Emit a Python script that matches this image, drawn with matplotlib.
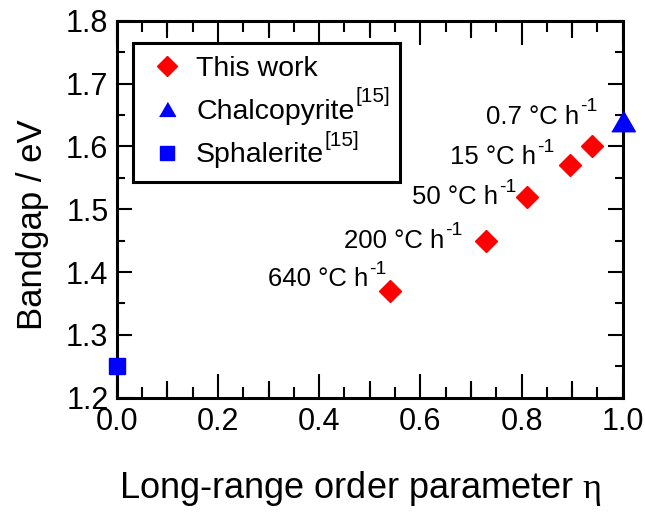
import matplotlib
matplotlib.use('Agg')
import matplotlib.pyplot as plt
from matplotlib.ticker import FixedLocator, MultipleLocator, FuncFormatter
from matplotlib.lines import Line2D

plt.rcParams['font.family'] = ['Liberation Sans', 'DejaVu Sans']
plt.rcParams['mathtext.fontset'] = 'custom'
plt.rcParams['mathtext.rm'] = 'Liberation Serif'
plt.rcParams['mathtext.sf'] = 'Liberation Sans'
plt.rcParams['mathtext.it'] = 'Liberation Serif:italic'
plt.rcParams['mathtext.bf'] = 'Liberation Serif:bold'

# ---- data ----
eta_this = [0.54, 0.73, 0.81, 0.895, 0.94]
gap_this = [1.37, 1.45, 1.52, 1.57, 1.60]
eta_chalco = [1.0]
gap_chalco = [1.64]
eta_sphal = [0.0]
gap_sphal = [1.25]
rate_labels = ['640', '200', '50', '15', '0.7']
legend_labels = ['This work', 'Chalcopyrite', 'Sphalerite']
legend_refs = ['', '[15]', '[15]']
x_ticks = [0.0, 0.2, 0.4, 0.6, 0.8, 1.0]
x_mid_ticks = [0.1, 0.3, 0.5, 0.7, 0.9]
y_ticks = [1.2, 1.3, 1.4, 1.5, 1.6, 1.7, 1.8]

# ---- layout (label anchor positions, data coords: left/baseline) ----
label_pos = [(0.299, 1.377), (0.449, 1.439), (0.583, 1.508), (0.659, 1.572), (0.730, 1.636)]

RED = '#ff0000'
BLUE = '#0000ff'

fig = plt.figure(figsize=(6.45, 5.16), dpi=100)
ax = fig.add_axes([0.181, 0.2293, 0.7845, 0.7306])

ax.plot(eta_this, gap_this, ls='none', marker='D', ms=11.5, color=RED, mec=RED,
        clip_on=False, zorder=5)
tri = [(-1, -0.866), (1, -0.866), (0, 0.866)]
ax.plot(eta_chalco, gap_chalco, ls='none', marker=tri, ms=17, color=BLUE, mec=BLUE,
        clip_on=False, zorder=5)
ax.plot(eta_sphal, gap_sphal, ls='none', marker='s', ms=12, color=BLUE, mec=BLUE,
        clip_on=False, zorder=5)

for r, (tx, ty) in zip(rate_labels, label_pos):
    t = ax.text(tx, ty, r + ' \u00b0C h', ha='left', va='baseline', fontsize=18.5)
    ax.annotate('-1', xy=(1, 0), xycoords=t, xytext=(0.8, 12.5),
                textcoords='offset points', ha='left', va='baseline', fontsize=14)

ax.set_xlim(0, 1.0)
ax.set_ylim(1.2, 1.8)
ax.xaxis.set_major_locator(FixedLocator(x_ticks))
ax.xaxis.set_minor_locator(MultipleLocator(0.05))
ax.yaxis.set_major_locator(FixedLocator(y_ticks))
ax.yaxis.set_minor_locator(MultipleLocator(0.05))
fmt = FuncFormatter(lambda v, p: f'{v:.1f}')
ax.xaxis.set_major_formatter(fmt)
ax.yaxis.set_major_formatter(fmt)

ax.tick_params(axis='x', which='major', direction='in', top=True, length=17, width=1.5,
               labelsize=22, pad=7)
ax.tick_params(axis='x', which='minor', direction='in', top=True, length=8, width=1.5)
ax.tick_params(axis='y', which='major', direction='in', right=True, length=11, width=1.5,
               labelsize=22, pad=6)
ax.tick_params(axis='y', which='minor', direction='in', right=True, length=6, width=1.5)
for s in ax.spines.values():
    s.set_linewidth(2.2)

for loc in ('bottom', 'top'):
    sec = ax.secondary_xaxis(loc)
    sec.set_xticks(x_mid_ticks)
    sec.tick_params(axis='x', which='major', direction='in', length=12, width=1.5,
                    labelbottom=False, labeltop=False)
    sec.tick_params(axis='x', which='minor', length=0)
    for s in sec.spines.values():
        s.set_visible(False)

ax.set_xlabel('Long-range order parameter $\\mathrm{\\eta}$', fontsize=26)
ax.set_ylabel('Bandgap / eV', fontsize=25)
ax.xaxis.set_label_coords(0.481, -0.19)
ax.yaxis.set_label_coords(-0.134, 0.459)

handles = [
    Line2D([], [], ls='none', marker='D', ms=10, color=RED, mec=RED),
    Line2D([], [], ls='none', marker=tri, ms=11.5, color=BLUE, mec=BLUE),
    Line2D([], [], ls='none', marker='s', ms=10.5, color=BLUE, mec=BLUE),
]
leg = ax.legend(handles, legend_labels, loc='upper left',
                bbox_to_anchor=(0.032, 0.641, 0.528, 0.30), mode='expand',
                borderaxespad=0, frameon=True, fancybox=False, edgecolor='black',
                framealpha=1, fontsize=20.5, handlelength=1.47, handletextpad=0.28,
                borderpad=0.47, labelspacing=0.6)
leg.get_frame().set_linewidth(2.2)
for txt, ref in zip(leg.get_texts(), legend_refs):
    if ref:
        ax.annotate(ref, xy=(1, 0), xycoords=txt, xytext=(0.5, 16.5),
                    textcoords='offset points', ha='left', va='baseline',
                    fontsize=15, zorder=10)

fig.savefig('out.png', dpi=100)
